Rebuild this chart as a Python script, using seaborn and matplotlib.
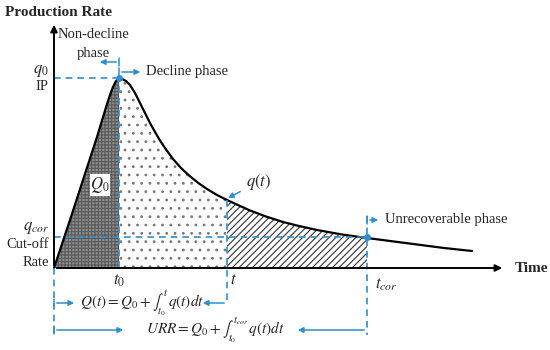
import numpy as np
import matplotlib.pyplot as plt
import seaborn as sns

# -----------------------------
# Data (read from the schematic, arbitrary units)
# -----------------------------

time = [0, 8, 16, 29, 43, 53, 56, 59, 62, 65, 68, 72, 76, 81, 86, 91, 96,
        101, 106, 112, 119, 127, 136, 145, 153, 163, 173, 185, 196, 212, 229,
        245, 263, 288, 313, 340, 363, 390, 418]
rate = [0, 24, 48, 88, 131, 164, 173, 181, 187, 190, 189, 187, 183, 175, 165,
        155, 145, 136, 127.5, 118.5, 109, 100, 91.7, 84.5, 79, 73, 68, 62.5,
        57.5, 51.5, 46, 42, 38, 33.5, 30, 26.5, 23.5, 20, 17]

t0 = 65
t_now = 173
t_cor = 313
q0 = 190
q_cor = 31

BLUE = "#2f8fce"

# -----------------------------
# Style
# -----------------------------

sns.set_style("white")
plt.rcParams["font.family"] = ["Liberation Serif", "DejaVu Serif"]
plt.rcParams["mathtext.fontset"] = "stix"
plt.rcParams["hatch.linewidth"] = 0.8

fig = plt.figure(figsize=(5.5, 3.5), dpi=100)
ax = fig.add_axes([0, 0, 1, 1])
ax.set_xlim(-54, 496)
ax.set_ylim(-82, 268)
ax.axis("off")

x = np.array(time)
y = np.array(rate)

# -----------------------------
# Shaded areas
# -----------------------------

m1 = x <= t0
ax.fill_between(x[m1], 0, y[m1], facecolor="#8e8e8e", edgecolor="#5a5a5a",
                hatch="+++++", linewidth=0)
m2 = (x >= t0) & (x <= t_now)
ax.fill_between(x[m2], 0, y[m2], facecolor="white", edgecolor="#777777",
                hatch="..", linewidth=0)
m3 = (x >= t_now) & (x <= t_cor)
ax.fill_between(x[m3], 0, y[m3], facecolor="white", edgecolor="#333333",
                hatch="/////", linewidth=0)

# curve
sns.lineplot(x=time, y=rate, ax=ax, color="black", linewidth=1.6, sort=False)

# -----------------------------
# Axes arrows
# -----------------------------

ax.annotate("", xy=(451, 0), xytext=(0, 0),
            arrowprops=dict(arrowstyle="-|>", color="black", lw=1.4, mutation_scale=10))
ax.annotate("", xy=(0, 246), xytext=(0, 0),
            arrowprops=dict(arrowstyle="-|>", color="black", lw=1.4, mutation_scale=10))
ax.text(-49, 256, "Production Rate", fontsize=11, fontweight="bold", va="center")
ax.text(461, 0, "Time", fontsize=11, fontweight="bold", va="center")

# -----------------------------
# Dashed guide lines
# -----------------------------

dash = dict(color=BLUE, linestyle=(0, (4, 3)), linewidth=1.2)
ax.plot([0, t0], [q0, q0], **dash)
ax.plot([t0, t0], [0, q0], **dash)
ax.plot([0, t_cor], [q_cor, q_cor], **dash)
ax.plot([0, 0], [0, -69], **dash)
ax.plot([t_now, t_now], [68, -35], **dash)
ax.plot([t_cor, t_cor], [52, -67], **dash)
ax.plot([t0, t_cor], [q0, q_cor], linestyle="none", marker="o", markersize=4, color=BLUE)

# -----------------------------
# Phase arrows and labels
# -----------------------------

arr = dict(arrowstyle="-|>", color=BLUE, lw=1.1, mutation_scale=8)


def harrow(x_from, x_to, yy, tick=False):
    ax.annotate("", xy=(x_to, yy), xytext=(x_from, yy), arrowprops=arr)
    if tick:
        ax.plot([x_from, x_from], [yy - 4, yy + 4], color=BLUE, lw=1.1)


harrow(t0, 43, 206, tick=True)
harrow(t0, 89, 196, tick=True)
harrow(t_cor, 327, 48, tick=True)
harrow(0, 23, -35, tick=True)
harrow(t_now, 146, -35)
harrow(0, 72, -62, tick=True)
harrow(t_cor, 241, -62)

fs = 10.5
ax.text(39, 233, "Non-decline", fontsize=fs, ha="center", va="center")
ax.text(39, 215, "phase", fontsize=fs, ha="center", va="center")
ax.text(92, 196, "Decline phase", fontsize=fs, va="center")
ax.text(331, 48, "Unrecoverable phase", fontsize=fs, va="center")

ax.text(-5, 197, "$q_0$", fontsize=12, ha="right", va="center")
ax.text(-6, 181, "IP", fontsize=fs, ha="right", va="center")
ax.text(-5, 40, "$q_{cor}$", fontsize=12, ha="right", va="center")
ax.text(-5, 23, "Cut-off", fontsize=fs, ha="right", va="center")
ax.text(-5, 5, "Rate", fontsize=fs, ha="right", va="center")

ax.text(46, 83, "$Q_0$", fontsize=12, ha="center", va="center",
        bbox=dict(facecolor="white", edgecolor="none", pad=0.5))
ax.annotate("$q(t)$", xy=(t_now + 1, 70), xytext=(192, 86), fontsize=12,
            va="center", arrowprops=dict(arrowstyle="-|>", color=BLUE, lw=1.1,
                                         mutation_scale=8, shrinkA=2, shrinkB=0))

ax.text(t0, -13, "$t_0$", fontsize=12, ha="center", va="center")
ax.text(t_now + 3, -12, "$t$", fontsize=12, ha="left", va="center")
ax.text(t_cor + 8, -17, "$t_{cor}$", fontsize=12, ha="left", va="center")

ax.text(26, -36, r"$Q(t) = Q_0 + \int_{t_0}^{t}\, q(t)dt$", fontsize=11, va="center")
ax.text(92, -63, r"$URR = Q_0 + \int_{t_0}^{t_{cor}}\, q(t)dt$", fontsize=11, va="center")

fig.savefig("out.png", dpi=100, facecolor="white")
